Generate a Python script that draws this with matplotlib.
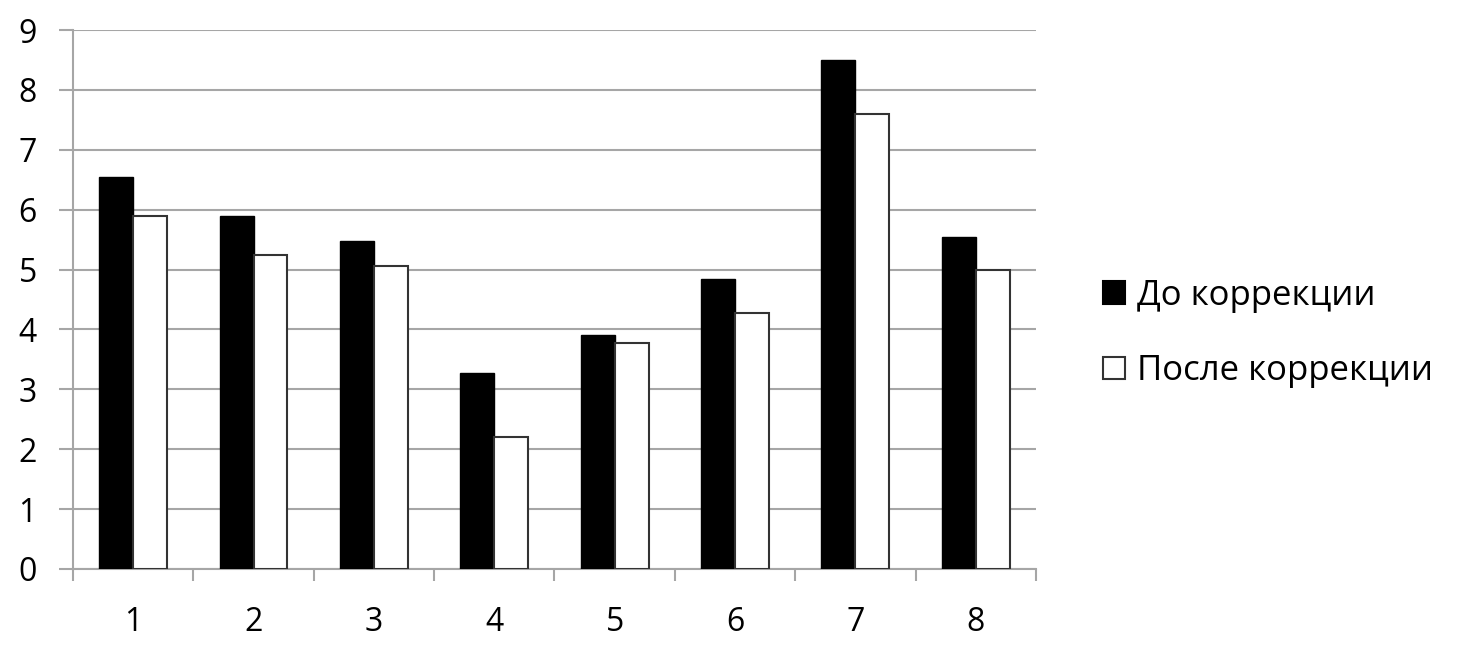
import matplotlib.pyplot as plt
import numpy as np

plt.rcParams['font.family'] = ['Open Sans', 'DejaVu Sans']

# Data
categories = ['1', '2', '3', '4', '5', '6', '7', '8']
before = [6.55, 5.9, 5.48, 3.28, 3.91, 4.85, 8.5, 5.55]
after = [5.9, 5.25, 5.06, 2.2, 3.77, 4.27, 7.6, 5.0]
labels = ['До коррекции', 'После коррекции']

grid_color = '#a6a6a6'

fig = plt.figure(figsize=(14.68, 6.58), dpi=100)
ax = fig.add_axes([0.0497, 0.1353, 0.656, 0.8191])

x = np.arange(len(categories))
w = 0.282
ax.bar(x - w / 2, before, w, color='black', edgecolor='black', linewidth=1, label=labels[0], zorder=3)
ax.bar(x + w / 2, after, w, color='white', edgecolor='#333333', linewidth=1.5, label=labels[1], zorder=3)

ax.set_xlim(-0.5, len(categories) - 0.5)
ax.set_ylim(0, 9)
ax.set_yticks(range(0, 10))
ax.yaxis.grid(True, color=grid_color, linewidth=1.5, zorder=0)

# category ticks sit between groups, labels at group centers
ax.set_xticks(np.arange(-0.5, len(categories), 1.0))
ax.set_xticklabels([])
ax.set_xticks(x, minor=True)
ax.set_xticklabels(categories, minor=True)
ax.tick_params(axis='x', which='minor', length=0, pad=27, labelsize=23)
ax.tick_params(axis='x', which='major', length=8.5, width=1.5, color=grid_color)
ax.tick_params(axis='y', length=10, width=1.5, color=grid_color, labelsize=23, pad=16)

for side in ['top', 'right']:
    ax.spines[side].set_visible(False)
for side in ['left', 'bottom']:
    ax.spines[side].set_color(grid_color)
    ax.spines[side].set_linewidth(1.5)

leg = fig.legend(loc='center left', bbox_to_anchor=(0.7514, 0.493), frameon=False,
                 fontsize=25, handlelength=0.62, handleheight=0.62, handletextpad=0.35,
                 labelspacing=1.2, borderpad=0, borderaxespad=0)
for h in leg.legend_handles:
    h.set_linewidth(1.5)

fig.savefig('out.png', dpi=100)
